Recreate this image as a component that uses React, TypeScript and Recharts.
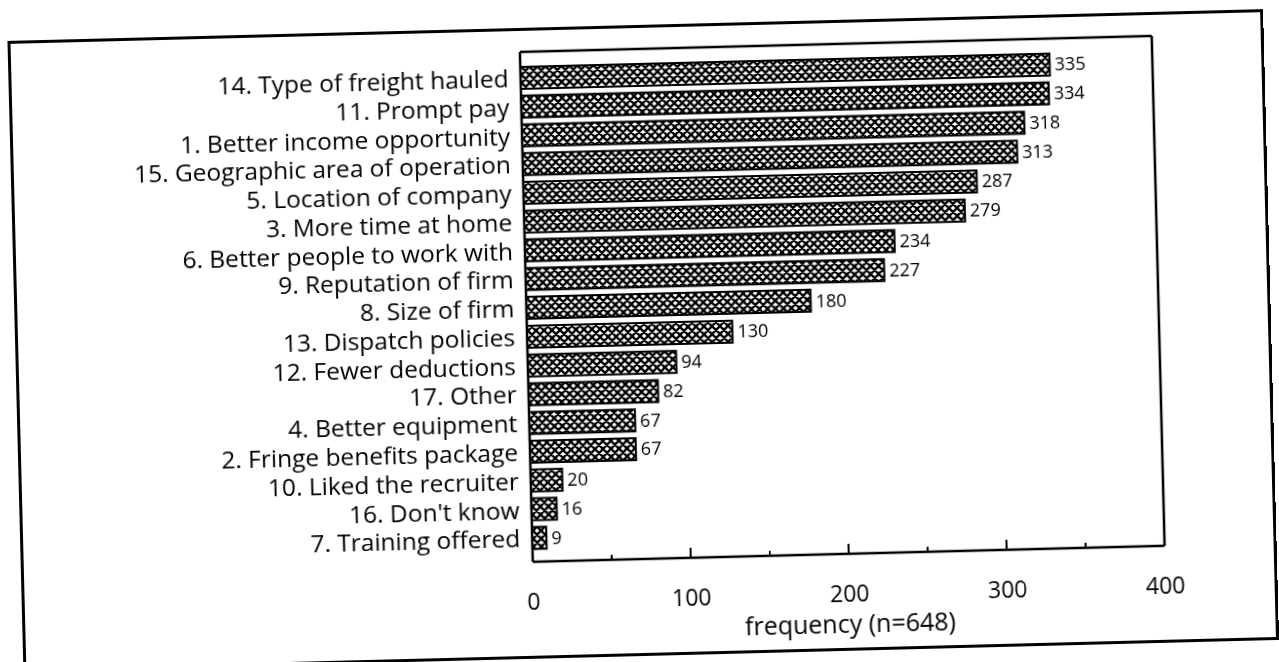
import { BarChart, Bar, XAxis, YAxis, LabelList, CartesianGrid } from 'recharts';

const categories = [
  '14. Type of freight hauled',
  '11. Prompt pay',
  '1. Better income opportunity',
  '15. Geographic area of operation',
  '5. Location of company',
  '3. More time at home',
  '6. Better people to work with',
  '9. Reputation of firm',
  '8. Size of firm',
  '13. Dispatch policies',
  '12. Fewer deductions',
  '17. Other',
  '4. Better equipment',
  '2. Fringe benefits package',
  '10. Liked the recruiter',
  "16. Don't know",
  '7. Training offered',
];

const counts = [335, 334, 318, 313, 287, 279, 234, 227, 180, 130, 94, 82, 67, 67, 20, 16, 9];

const xTicks = [0, 50, 100, 150, 200, 250, 300, 350, 400];

const data = categories.map((name, i) => ({ name, count: counts[i] }));

const font = '"Open Sans", Lato, sans-serif';
const ink = '#000';

function FreqTick(props: any) {
  const { x, y, payload } = props;
  const v = payload.value;
  const major = v % 100 === 0;
  const len = v === 0 || v === 400 ? 0 : major ? 10 : 5;
  return (
    <g>
      {len > 0 && <line x1={x} y1={y} x2={x} y2={y - len} stroke={ink} strokeWidth={2} />}
      {major && (
        <text x={x} y={y + 48} textAnchor="middle" fontSize={23} fontFamily={font} fill={ink}>
          {v}
        </text>
      )}
    </g>
  );
}

// plot box: top edge and right edge of the plotting area
const topEdge = ({ offset }: any) => [offset.top];
const rightEdge = ({ offset }: any) => [offset.left + offset.width];

export default function App() {
  return (
    <div
      style={{
        position: 'fixed',
        left: 0,
        top: 0,
        width: 1279,
        height: 662,
        background: '#fff',
        transform: 'rotate(-1.45deg)',
        transformOrigin: '640px 331px',
      }}
    >
      <div
        style={{
          position: 'absolute',
          left: 15,
          top: 25,
          width: 1256,
          height: 631,
          boxSizing: 'border-box',
          border: `3px solid ${ink}`,
        }}
      />
      <div style={{ position: 'absolute', left: 0, top: 0 }}>
        <BarChart
          width={1279}
          height={662}
          data={data}
          layout="vertical"
          margin={{ top: 49, right: 120, bottom: 23, left: 0 }}
        >
          <defs>
            <pattern id="xhatch" width={8} height={8} patternUnits="userSpaceOnUse">
              <rect width={8} height={8} fill="#fff" />
              <path d="M0,0 L8,8 M8,0 L0,8 M-1,7 L1,9 M7,-1 L9,1 M-1,1 L1,-1 M7,9 L9,7" stroke={ink} strokeWidth={2.3} />
            </pattern>
          </defs>
          <CartesianGrid
            stroke={ink}
            strokeWidth={2.5}
            horizontalCoordinatesGenerator={topEdge}
            verticalCoordinatesGenerator={rightEdge}
          />
          <XAxis
            type="number"
            domain={[0, 400]}
            ticks={xTicks}
            interval={0}
            height={80}
            tickSize={0}
            tickMargin={0}
            tickLine={false}
            axisLine={{ stroke: ink, strokeWidth: 2.5 }}
            tick={<FreqTick />}
            label={{
              value: 'frequency (n=648)',
              position: 'insideBottom',
              offset: 1,
              fill: ink,
              fontSize: 25,
              fontFamily: font,
            }}
          />
          <YAxis
            type="category"
            dataKey="name"
            width={527}
            interval={0}
            tickSize={0}
            tickMargin={12}
            tickLine={false}
            padding={{ top: 12, bottom: 9 }}
            axisLine={{ stroke: ink, strokeWidth: 2.5 }}
            tick={{ fill: ink, fontSize: 24.5, fontFamily: font }}
          />
          <Bar
            dataKey="count"
            barSize={22}
            fill="url(#xhatch)"
            stroke={ink}
            strokeWidth={2}
            isAnimationActive={false}
          >
            <LabelList
              dataKey="count"
              position="right"
              offset={5}
              fill={ink}
              fontSize={18}
              fontFamily={font}
            />
          </Bar>
        </BarChart>
      </div>
    </div>
  );
}
